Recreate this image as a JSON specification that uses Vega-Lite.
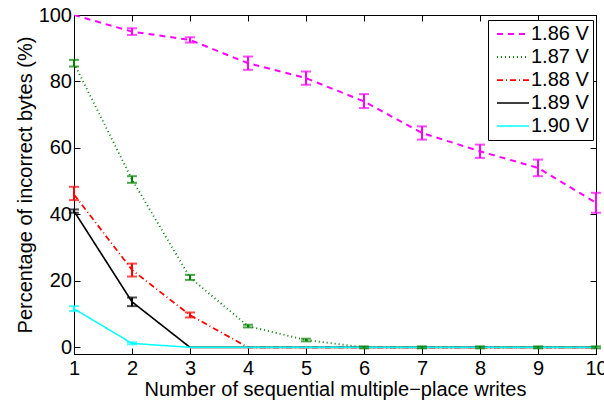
{
  "$schema": "https://vega.github.io/schema/vega-lite/v6.json",
  "autosize": "none",
  "width": 522,
  "height": 339,
  "padding": {"left": 74, "top": 15, "right": 8, "bottom": 48},
  "background": "white",
  "config": {
    "font": "Liberation Sans",
    "view": {"stroke": "black", "strokeWidth": 1},
    "axis": {"grid": false, "domainColor": "black", "tickColor": "black", "labelColor": "black", "titleColor": "black", "labelFont": "Liberation Sans", "titleFont": "Liberation Sans", "labelFontSize": 20, "titleFontSize": 20, "titleFontWeight": "normal", "tickSize": -6, "labelPadding": 10, "labelFlush": false, "labelOverlap": false}
  },
  "data": {
    "values": [
      {"s": "1.86 V", "x": 1, "y": 100, "lo": null, "hi": null},
      {"s": "1.86 V", "x": 2, "y": 95, "lo": 94, "hi": 96},
      {"s": "1.86 V", "x": 3, "y": 92.5, "lo": 91.7, "hi": 93.3},
      {"s": "1.86 V", "x": 4, "y": 85.5, "lo": 83.5, "hi": 87.5},
      {"s": "1.86 V", "x": 5, "y": 81, "lo": 79, "hi": 83},
      {"s": "1.86 V", "x": 6, "y": 74, "lo": 72, "hi": 76.2},
      {"s": "1.86 V", "x": 7, "y": 64.5, "lo": 62.5, "hi": 66.5},
      {"s": "1.86 V", "x": 8, "y": 59, "lo": 57, "hi": 61},
      {"s": "1.86 V", "x": 9, "y": 54, "lo": 51.5, "hi": 56.5},
      {"s": "1.86 V", "x": 10, "y": 43.5, "lo": 40.5, "hi": 46.5},
      {"s": "1.87 V", "x": 1, "y": 85.5, "lo": 84.5, "hi": 86.5},
      {"s": "1.87 V", "x": 2, "y": 50.5, "lo": 49.5, "hi": 51.5},
      {"s": "1.87 V", "x": 3, "y": 21, "lo": 20.3, "hi": 21.8},
      {"s": "1.87 V", "x": 4, "y": 6.4, "lo": 6, "hi": 6.8},
      {"s": "1.87 V", "x": 5, "y": 2.2, "lo": 1.8, "hi": 2.6},
      {"s": "1.87 V", "x": 6, "y": 0, "lo": -0.3, "hi": 0.3},
      {"s": "1.87 V", "x": 7, "y": 0, "lo": -0.3, "hi": 0.3},
      {"s": "1.87 V", "x": 8, "y": 0, "lo": -0.3, "hi": 0.3},
      {"s": "1.87 V", "x": 9, "y": 0, "lo": -0.3, "hi": 0.3},
      {"s": "1.87 V", "x": 10, "y": 0, "lo": -0.3, "hi": 0.3},
      {"s": "1.88 V", "x": 1, "y": 46, "lo": 44.3, "hi": 48.3},
      {"s": "1.88 V", "x": 2, "y": 23.3, "lo": 21.3, "hi": 25.2},
      {"s": "1.88 V", "x": 3, "y": 9.7, "lo": 9, "hi": 10.5},
      {"s": "1.88 V", "x": 4, "y": 0, "lo": null, "hi": null},
      {"s": "1.88 V", "x": 5, "y": 0, "lo": null, "hi": null},
      {"s": "1.88 V", "x": 6, "y": 0, "lo": null, "hi": null},
      {"s": "1.88 V", "x": 7, "y": 0, "lo": null, "hi": null},
      {"s": "1.88 V", "x": 8, "y": 0, "lo": null, "hi": null},
      {"s": "1.88 V", "x": 9, "y": 0, "lo": null, "hi": null},
      {"s": "1.88 V", "x": 10, "y": 0, "lo": null, "hi": null},
      {"s": "1.89 V", "x": 1, "y": 41, "lo": 40.5, "hi": 41.5},
      {"s": "1.89 V", "x": 2, "y": 13.7, "lo": 12.4, "hi": 15},
      {"s": "1.89 V", "x": 3, "y": 0, "lo": null, "hi": null},
      {"s": "1.89 V", "x": 4, "y": 0, "lo": null, "hi": null},
      {"s": "1.89 V", "x": 5, "y": 0, "lo": null, "hi": null},
      {"s": "1.89 V", "x": 6, "y": 0, "lo": null, "hi": null},
      {"s": "1.89 V", "x": 7, "y": 0, "lo": null, "hi": null},
      {"s": "1.89 V", "x": 8, "y": 0, "lo": null, "hi": null},
      {"s": "1.89 V", "x": 9, "y": 0, "lo": null, "hi": null},
      {"s": "1.89 V", "x": 10, "y": 0, "lo": null, "hi": null},
      {"s": "1.90 V", "x": 1, "y": 11.6, "lo": 10.9, "hi": 12.4},
      {"s": "1.90 V", "x": 2, "y": 1.2, "lo": 0.9, "hi": 1.5},
      {"s": "1.90 V", "x": 3, "y": 0, "lo": null, "hi": null},
      {"s": "1.90 V", "x": 4, "y": 0, "lo": null, "hi": null},
      {"s": "1.90 V", "x": 5, "y": 0, "lo": null, "hi": null},
      {"s": "1.90 V", "x": 6, "y": 0, "lo": null, "hi": null},
      {"s": "1.90 V", "x": 7, "y": 0, "lo": null, "hi": null},
      {"s": "1.90 V", "x": 8, "y": 0, "lo": null, "hi": null},
      {"s": "1.90 V", "x": 9, "y": 0, "lo": null, "hi": null},
      {"s": "1.90 V", "x": 10, "y": 0, "lo": null, "hi": null}
    ]
  },
  "resolve": {"axis": {"x": "independent", "y": "independent"}},
  "layer": [
    {
      "mark": {"type": "line", "clip": true},
      "encoding": {
        "x": {"field": "x", "type": "quantitative", "scale": {"domain": [1, 10], "nice": false, "zero": false}, "axis": {"values": [1,2,3,4,5,6,7,8,9,10], "title": "Number of sequential multiple\u2212place writes", "titlePadding": 1}},
        "y": {"field": "y", "type": "quantitative", "scale": {"domain": [-2, 100], "nice": false, "zero": false}, "axis": {"values": [0,20,40,60,80,100], "title": "Percentage of incorrect bytes (%)", "titlePadding": 3, "labelPadding": 8.5}},
        "color": {"field": "s", "type": "nominal", "scale": {"domain": ["1.86 V","1.87 V","1.88 V","1.89 V","1.90 V"], "range": ["#ff00ff","#008000","#ff0000","#000000","#00ffff"]},
          "legend": {"title": null, "orient": "none", "legendX": 414, "legendY": 5, "strokeColor": "black", "fillColor": "white", "padding": 4, "symbolType": "M-3.2,0H3.2", "symbolSize": 100, "symbolStrokeWidth": 2, "symbolOffset": 11, "labelFontSize": 20, "labelFont": "Liberation Sans", "labelColor": "black", "rowPadding": 3, "labelOffset": 8}},
        "strokeDash": {"field": "s", "type": "nominal", "scale": {"domain": ["1.86 V","1.87 V","1.88 V","1.89 V","1.90 V"], "range": [[6,5],[1,3],[6,3,1,3],[1,0],[1,0]]}},
        "strokeWidth": {"field": "s", "type": "nominal", "scale": {"domain": ["1.86 V","1.87 V","1.88 V","1.89 V","1.90 V"], "range": [2,1.5,2,1.5,2.5]}, "legend": null}
      }
    },
    {
      "mark": {"type": "rule", "strokeWidth": 2},
      "encoding": {
        "x": {"field": "x", "type": "quantitative", "axis": {"orient": "top", "labels": false, "title": null, "values": [1,2,3,4,5,6,7,8,9,10]}},
        "y": {"field": "lo", "type": "quantitative", "axis": {"orient": "right", "labels": false, "title": null, "values": [0,20,40,60,80,100]}},
        "y2": {"field": "hi"},
        "color": {"field": "s", "type": "nominal", "legend": null}
      }
    },
    {
      "mark": {"type": "tick", "orient": "horizontal", "size": 10, "thickness": 2},
      "encoding": {
        "x": {"field": "x", "type": "quantitative", "axis": null},
        "y": {"field": "lo", "type": "quantitative", "axis": null},
        "color": {"field": "s", "type": "nominal", "legend": null}
      }
    },
    {
      "mark": {"type": "tick", "orient": "horizontal", "size": 10, "thickness": 2},
      "encoding": {
        "x": {"field": "x", "type": "quantitative", "axis": null},
        "y": {"field": "hi", "type": "quantitative", "axis": null},
        "color": {"field": "s", "type": "nominal", "legend": null}
      }
    }
  ]
}
